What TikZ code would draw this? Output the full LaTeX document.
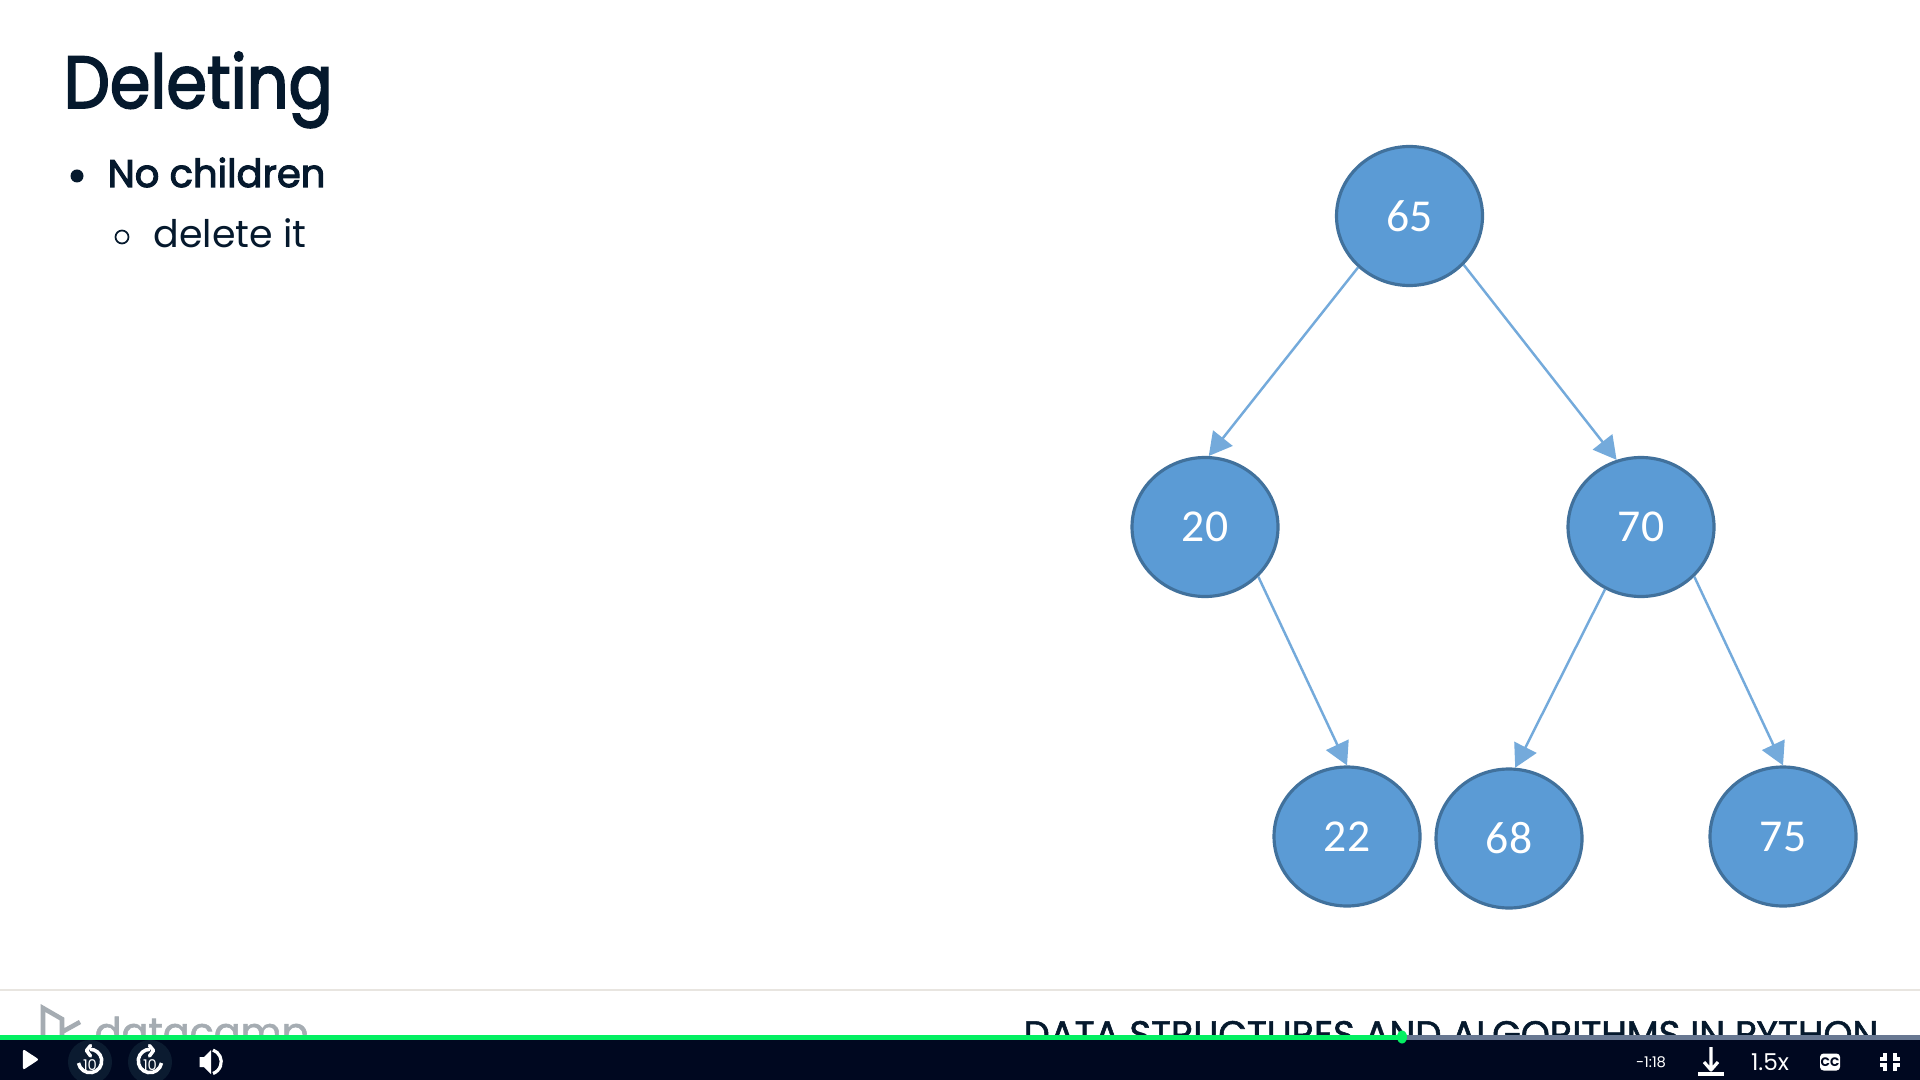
\documentclass[tikz,border=0pt]{standalone}
\usepackage{fontspec}
\setmainfont{Poppins}
\newfontfamily\numfont{Carlito}
\newfontfamily\headfont[FakeBold=2.4, FakeStretch=0.885]{Poppins}
\newfontfamily\medfont[FakeBold=1.4]{Poppins}
\newfontfamily\semifont[FakeBold=2.8]{Poppins}
\usetikzlibrary{positioning, arrows.meta, shapes.geometric}
\definecolor{nodeBlue}{RGB}{91, 155, 213}
\definecolor{nodeEdge}{RGB}{65, 113, 156}
\definecolor{inkNavy}{RGB}{5, 25, 45}
\definecolor{barNavy}{RGB}{0, 8, 32}
\definecolor{barGreen}{RGB}{3, 239, 98}
\definecolor{barGrey}{RGB}{104, 120, 146}
\definecolor{ruleGrey}{RGB}{232, 229, 224}
\definecolor{logoGrey}{RGB}{165, 172, 178}
\definecolor{ringNavy}{RGB}{11, 27, 48}
\begin{document}
\begin{tikzpicture}[
        font=\color{inkNavy},
        tree/.style={ellipse, draw=nodeEdge, line width=0.9pt, fill=nodeBlue, minimum width=1.46cm,
            minimum height=1.39cm, inner sep=0pt, font=\numfont\fontsize{13}{13}\selectfont\color{white}},
        arr/.style={-{Triangle[length=6.5pt, width=7pt]}, line width=0.7pt, nodeBlue!85},
        txt/.style={anchor=base west, inner sep=0pt},
        ctl/.style={inner sep=0pt, font=\fontsize{4.2}{5}\selectfont\color{white}},
        icon/.style={white, line width=0.9pt}
    ]
    \useasboundingbox (0,0) rectangle (19.2,-10.8);
    \fill[white] (0,0) rectangle (19.2,-10.8);

    \node[tree] (n65) at (14.095,-2.16) {65};
    \node[tree] (n20) at (12.05,-5.27) {20};
    \node[tree] (n70) at (16.41,-5.27) {70};
    \node[tree] (n22) at (13.47,-8.365) {22};
    \node[tree] (n68) at (15.09,-8.385) {68};
    \node[tree] (n75) at (17.83,-8.365) {75};

    \draw[arr] (n65.225) -- (n20.87);
    \draw[arr] (n65.-42) -- (n70.110);
    \draw[arr] (n20.-43) -- (n22.north);
    \draw[arr] (n70.240) -- (n68.85);
    \draw[arr] (n70.-43) -- (n75.north);

    % slide text
    \node[txt, font=\headfont\fontsize{21}{21}\selectfont\color{inkNavy}] (title) at (0.63,-1.08) {Deleting};
    \fill[inkNavy] (0.77,-1.76) circle (0.065);
    \node[txt, font=\semifont\fontsize{10.95}{11}\selectfont\color{inkNavy}] (item) at (1.07,-1.87) {No children};
    \draw[inkNavy, line width=0.5pt] (1.22,-2.37) circle (0.065);
    \node[txt, font=\fontsize{10.8}{11}\selectfont\color{inkNavy}] (subitem) at (1.53,-2.48) {delete it};

    % footer, cut by the player bar
    \draw[ruleGrey, line width=0.6pt] (0,-9.9) -- (19.2,-9.9);
    \draw[logoGrey, line width=1.3pt] (0.43,-10.45) -- (0.43,-10.08) -- (0.62,-10.19) -- (0.62,-10.4) (0.62,-10.32) -- (0.8,-10.22);
    \node[txt, font=\medfont\fontsize{11.3}{12}\selectfont\color{logoGrey}] (logo) at (0.94,-10.46) {datacamp};
    \node[txt, font=\medfont\fontsize{10.5}{11}\selectfont\color{inkNavy}] (course) at (10.23,-10.47) {DATA STRUCTURES AND ALGORITHMS IN PYTHON};

    % player bar
    \fill[barNavy] (0,-10.4) rectangle (19.2,-10.8);
    \fill[barGrey] (14.02,-10.35) rectangle (19.2,-10.4);
    \fill[barGreen] (0,-10.35) rectangle (14.02,-10.4);
    \fill[barGreen] (14.02,-10.37) ellipse (0.05 and 0.065);

    \fill[white, rounded corners=0.6pt] (0.23,-10.49) -- (0.39,-10.595) -- (0.23,-10.70) -- cycle;
    \fill[ringNavy] (0.9,-10.62) circle (0.22);
    \fill[ringNavy] (1.5,-10.62) circle (0.22);
    \draw[icon, line width=1pt] (0.785,-10.63) arc[start angle=190, end angle=450, radius=0.117];
    \draw[icon, line width=1pt, line cap=round, line join=round] (0.905,-10.455) -- (0.865,-10.505) -- (0.905,-10.56);
    \draw[icon, line width=1pt] (1.615,-10.63) arc[start angle=-10, end angle=-270, radius=0.117];
    \draw[icon, line width=1pt, line cap=round, line join=round] (1.495,-10.455) -- (1.535,-10.505) -- (1.495,-10.56);
    \node[ctl] (back) at (0.9,-10.655) {10};
    \node[ctl] (fwd) at (1.5,-10.655) {10};
    \fill[white] (1.995,-10.57) -- (2.04,-10.57) -- (2.11,-10.5) -- (2.11,-10.74) -- (2.04,-10.67) -- (1.995,-10.67) -- cycle;
    \draw[icon] (2.13,-10.5) arc[start angle=70, end angle=-70, radius=0.125];

    \node[ctl] (clock) at (16.51,-10.62) {-1:18};
    \draw[icon, line join=round] (17.11,-10.47) -- (17.11,-10.70) (17.04,-10.62) -- (17.11,-10.70) -- (17.18,-10.62);
    \draw[white, line width=1.1pt] (16.98,-10.74) -- (17.24,-10.74);
    \node[ctl, font=\fontsize{6.6}{7}\selectfont\color{white}] (speed) at (17.70,-10.62) {1.5x};
    \node[fill=white, rounded corners=1pt, inner sep=0pt, minimum width=0.2cm, minimum height=0.17cm,
        font=\bfseries\fontsize{3.5}{4}\selectfont\color{barNavy}] (cc) at (18.30,-10.62) {CC};
    \draw[icon] (18.85,-10.53) -- (18.85,-10.59) -- (18.8,-10.59)
        (18.95,-10.53) -- (18.95,-10.59) -- (19.0,-10.59)
        (18.85,-10.71) -- (18.85,-10.65) -- (18.8,-10.65)
        (18.95,-10.71) -- (18.95,-10.65) -- (19.0,-10.65);
\end{tikzpicture}
\end{document}
